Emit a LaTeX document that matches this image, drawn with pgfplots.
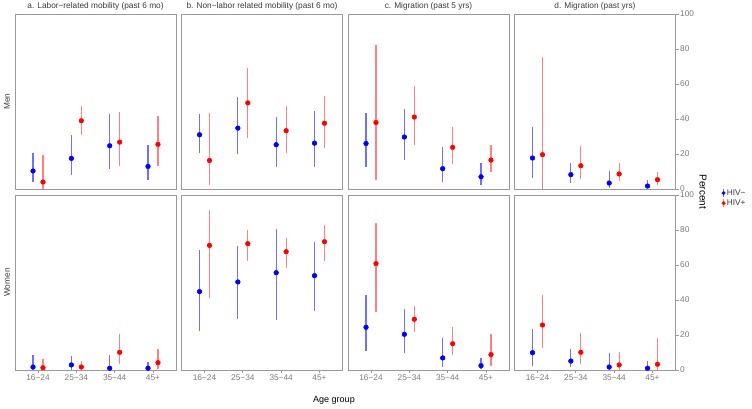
\documentclass[border=0pt]{standalone}
\usepackage{fontspec}
\setmainfont{Liberation Sans}
\usepackage{pgfplots}
\pgfplotsset{compat=1.18}
\usepackage{pgfplotstable}

\definecolor{framec}{HTML}{9A9A9A}
\definecolor{ticktxt}{HTML}{7A7A7A}
\definecolor{striptxt}{HTML}{3A3A3A}
\definecolor{hivneg}{HTML}{0000FF}
\definecolor{hivpos}{HTML}{FF0000}
\definecolor{negbar}{HTML}{7070FF}
\definecolor{posbar}{HTML}{FF8080}

% columns: c = age group index, b/blo/bhi = HIV- estimate and CI, r/rlo/rhi = HIV+ estimate and CI
\pgfplotstableread{
c b blo bhi r rlo rhi
1 10.3 3.8 20.3 4.0 0 19.2
2 17.5 8.0 30.8 39.0 30.8 47.5
3 24.7 11.6 42.6 26.8 13.3 44.1
4 12.9 4.9 25.1 25.5 12.9 41.8
}\tabAM
\pgfplotstableread{
c b blo bhi r rlo rhi
1 31.0 20.3 43.0 16.3 2.5 43.5
2 34.8 19.8 52.3 49.2 28.9 69.4
3 25.3 12.7 41.3 33.3 20.7 47.5
4 26.2 12.4 44.7 37.6 23.2 53.2
}\tabBM
\pgfplotstableread{
c b blo bhi r rlo rhi
1 26.0 12.4 43.3 38.0 5.1 82.5
2 29.7 16.5 45.6 41.1 24.9 58.9
3 11.6 4.0 24.0 23.8 14.3 35.2
4 7.0 2.3 15.0 16.5 9.7 24.9
}\tabCM
\pgfplotstableread{
c b blo bhi r rlo rhi
1 17.7 6.3 35.4 19.6 0 75.7
2 8.2 3.4 14.8 13.3 5.7 24.5
3 3.4 0.6 10.3 8.6 4.4 14.8
4 1.7 0.4 5.1 5.3 2.5 9.7
}\tabDM
\pgfplotstableread{
c b blo bhi r rlo rhi
1 1.7 0 8.8 1.3 0 6.3
2 2.9 0 8.2 1.7 0 5.3
3 1.0 0 8.6 10.1 3.6 20.6
4 1.0 0 4.6 4.2 0.6 11.8
}\tabAW
\pgfplotstableread{
c b blo bhi r rlo rhi
1 44.8 22.5 68.4 71.2 41.3 91.6
2 50.3 29.1 71.0 72.2 62.5 80.2
3 55.6 28.6 80.6 67.6 58.3 75.4
4 53.9 33.5 73.3 73.3 62.3 82.9
}\tabBW
\pgfplotstableread{
c b blo bhi r rlo rhi
1 24.4 10.9 42.7 60.8 33.3 83.8
2 20.4 9.7 34.9 29.0 21.7 36.8
3 6.9 1.5 18.1 15.0 8.4 24.6
4 2.5 0.4 6.7 8.8 2.3 20.4
}\tabCW
\pgfplotstableread{
c b blo bhi r rlo rhi
1 9.9 2.5 23.6 25.7 12.8 42.7
2 5.1 1.5 12.0 10.1 3.6 21.3
3 1.7 0 9.7 2.9 0 10.1
4 1.0 0 5.1 3.3 0 18.3
}\tabDW

\pgfplotsset{every error bar/.style={line width=1.1pt, solid}}

\newcommand{\pairs}[1]{%
  \addplot[only marks, mark=none, draw=negbar, color=negbar, line width=1.1pt, forget plot,
    error bars/.cd, y dir=both, y explicit, error mark=none,
    error bar style={draw=negbar, line width=1.1pt, solid}]
    table[x expr=\thisrow{c}-0.13, y=b,
      y error plus expr=\thisrow{bhi}-\thisrow{b},
      y error minus expr=\thisrow{b}-\thisrow{blo}] {#1};
  \addplot[only marks, mark=none, draw=posbar, color=posbar, line width=1.1pt, forget plot,
    error bars/.cd, y dir=both, y explicit, error mark=none,
    error bar style={draw=posbar, line width=1.1pt, solid}]
    table[x expr=\thisrow{c}+0.13, y=r,
      y error plus expr=\thisrow{rhi}-\thisrow{r},
      y error minus expr=\thisrow{r}-\thisrow{rlo}] {#1};
  \addplot[only marks, mark=*, mark size=2.3pt, color=hivneg, forget plot]
    table[x expr=\thisrow{c}-0.13, y=b] {#1};
  \addplot[only marks, mark=*, mark size=2.3pt, color=hivpos, forget plot]
    table[x expr=\thisrow{c}+0.13, y=r] {#1};
}

\pgfplotsset{
  panel/.style={
    scale only axis, width=161pt, height=175pt, anchor=south west,
    xmin=0.4, xmax=4.6, ymin=0, ymax=100,
    axis line style={draw=framec, line width=0.8pt},
    xtick=\empty, ytick=\empty,
    tick style={draw=framec, line width=0.7pt},
    tick align=outside, major tick length=3pt,
    tick label style={font=\fontsize{8.3}{9}\selectfont, text=ticktxt},
    /pgf/number format/assume math mode=true,
    every axis title/.style={font=\fontsize{8.3}{9}\selectfont, text=striptxt,
      at={(0.5,1)}, anchor=base, yshift=5.5pt, inner sep=0pt},
  },
  bottomrow/.style={xtick={1,2,3,4}, xtick pos=left,
    xticklabels={16−24,25−34,35−44,45+},
    xticklabel style={inner sep=1.5pt}},
  rightcol/.style={ytick={0,20,40,60,80,100}, ytick pos=right,
    yticklabel pos=right, yticklabels={0,20,40,60,80,100},
    yticklabel style={inner sep=1.5pt}},
}

\begin{document}
\begin{tikzpicture}
\useasboundingbox (0pt,0pt) rectangle (752pt,409pt);

% Men row
\begin{axis}[panel, at={(15pt,220pt)}, title={a. Labor−related mobility (past 6 mo)}]
\pairs{\tabAM}
\end{axis}
\begin{axis}[panel, at={(181.5pt,220pt)}, title={b. Non−labor related mobility (past 6 mo)}]
\pairs{\tabBM}
\end{axis}
\begin{axis}[panel, at={(348pt,220pt)}, title={c. Migration (past 5 yrs)}]
\pairs{\tabCM}
\end{axis}
\begin{axis}[panel, rightcol, at={(514.5pt,220pt)}, title={d. Migration (past yrs)},
  legend style={draw=none, fill=none, at={(1.285,-0.052)}, anchor=west,
    font=\fontsize{8.3}{9}\selectfont, text=striptxt, row sep=0.5pt,
    inner sep=0pt, nodes={inner sep=1.2pt}},
  legend cell align=left]
\pairs{\tabDM}
\addlegendimage{legend image code/.code={
  \draw[negbar, line width=0.9pt] (0.1cm,-0.14cm)--(0.1cm,0.14cm);
  \fill[hivneg] (0.1cm,0) circle (1.8pt);}}
\addlegendentry{HIV−}
\addlegendimage{legend image code/.code={
  \draw[posbar, line width=0.9pt] (0.1cm,-0.14cm)--(0.1cm,0.14cm);
  \fill[hivpos] (0.1cm,0) circle (1.8pt);}}
\addlegendentry{HIV+}
\end{axis}

% Women row
\begin{axis}[panel, bottomrow, at={(15pt,39pt)}]
\pairs{\tabAW}
\end{axis}
\begin{axis}[panel, bottomrow, at={(181.5pt,39pt)}]
\pairs{\tabBW}
\end{axis}
\begin{axis}[panel, bottomrow, at={(348pt,39pt)}]
\pairs{\tabCW}
\end{axis}
\begin{axis}[panel, bottomrow, rightcol, at={(514.5pt,39pt)}]
\pairs{\tabDW}
\end{axis}

% row strip labels and axis titles
\node[rotate=90, font=\fontsize{8.3}{9}\selectfont, text=striptxt] at (7pt,307.5pt) {Men};
\node[rotate=90, font=\fontsize{8.3}{9}\selectfont, text=striptxt] at (7pt,126.5pt) {Women};
\node[font=\fontsize{9}{10}\selectfont, text=black] at (334pt,9pt) {Age group};
\node[rotate=-90, font=\fontsize{10}{11}\selectfont, text=black] at (703pt,217pt) {Percent};
\end{tikzpicture}
\end{document}
